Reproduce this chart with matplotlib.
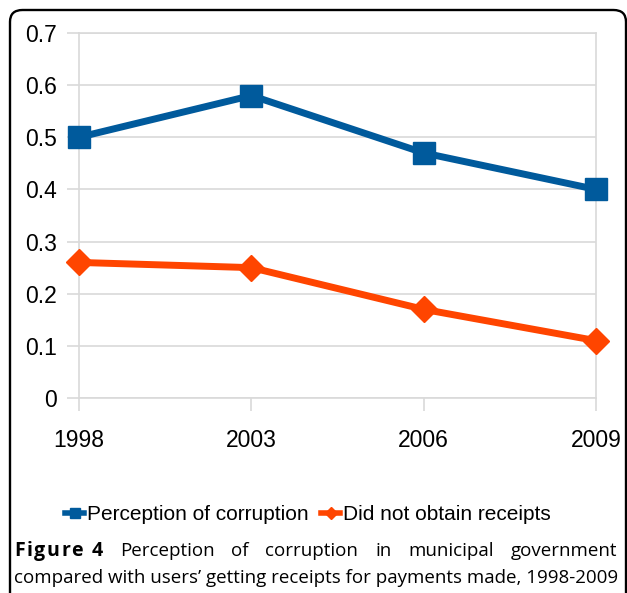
import matplotlib
matplotlib.use("Agg")
import matplotlib.pyplot as plt
from matplotlib.patches import FancyBboxPatch

years = ["1998", "2003", "2006", "2009"]
corruption = [0.50, 0.58, 0.47, 0.40]
no_receipt = [0.26, 0.25, 0.17, 0.11]
yticks = [0, 0.1, 0.2, 0.3, 0.4, 0.5, 0.6, 0.7]
caption_bold = "Figure 4"
caption_line1 = "Perception of corruption in municipal government"
caption_line2 = "compared with users\u2019 getting receipts for payments made, 1998-2009"

blue = "#005a9c"
orange = "#ff4500"
grid = "#d9d9d9"

W, H = 627, 593
fig = plt.figure(figsize=(W / 100, H / 100), dpi=100)
plt.rcParams["font.family"] = ["Liberation Sans", "DejaVu Sans"]

# rounded frame, only top-left part visible
frame = FancyBboxPatch((10 / W, -0.2), 616 / W, 1.2 - 10 / H,
                       boxstyle="round,pad=0,rounding_size=0.02",
                       transform=fig.transFigure, fill=False, ec="black", lw=1.7)
fig.patches.append(frame)

ax = fig.add_axes([79 / W, 1 - 398 / H, (596 - 79) / W, (398 - 33) / H])
x = range(len(years))
ax.plot(x, corruption, color=blue, lw=5, marker="s", ms=16, clip_on=False,
        zorder=3, label="Perception of corruption")
ax.plot(x, no_receipt, color=orange, lw=5, marker="D", ms=13, clip_on=False,
        zorder=3, label="Did not obtain receipts")

ax.set_xlim(0, 3)
ax.set_ylim(0, 0.7)
ax.set_xticks(list(x))
ax.set_xticklabels(years)
ax.set_yticks(yticks)
ax.set_yticklabels(["0" if v == 0 else f"{v:.1f}" for v in yticks])
ax.yaxis.grid(True, color=grid, lw=1.2)
ax.set_axisbelow(True)
for s in ax.spines.values():
    s.set_color(grid)
    s.set_linewidth(1.2)
ax.tick_params(axis="both", colors=grid, length=9, width=1.2, labelsize=16.5,
               labelcolor="black")
ax.tick_params(axis="y", pad=7)
ax.tick_params(axis="x", pad=13)

fig.legend(loc="center", bbox_to_anchor=(308 / W, 1 - 515 / H), ncol=2,
           frameon=False, fontsize=15, handlelength=0.9, handletextpad=0.15,
           columnspacing=0.6, markerscale=0.45)
for line in fig.legends[0].get_lines():
    line.set_linewidth(4)

# justified caption
fig.canvas.draw()
r = fig.canvas.get_renderer()
left, right = 14, 617
y1 = 1 - 551 / H
y2 = 1 - 578 / H
cap_font = ["Open Sans", "DejaVu Sans"]

# bold label with letter spacing
track = 1.6
pos = left
for word in caption_bold.split():
    for ch in word:
        t = fig.text(pos / W, y1, ch, fontsize=14, family=cap_font,
                     weight="bold", va="center")
        pos += t.get_window_extent(r).width + track
    pos += 7
bold_end = pos - 7 - track

texts = [fig.text(0, y1, w, fontsize=13.5, family=cap_font, va="center")
         for w in caption_line1.split()]
widths = [t.get_window_extent(r).width for t in texts]
gap = (right - bold_end - sum(widths)) / len(texts)
pos = bold_end + gap
for t, w in zip(texts, widths):
    t.set_x(pos / W)
    pos += w + gap
fig.text(left / W, y2, caption_line2, fontsize=13.5, family=cap_font, va="center")

fig.savefig("out.png", dpi=100)
